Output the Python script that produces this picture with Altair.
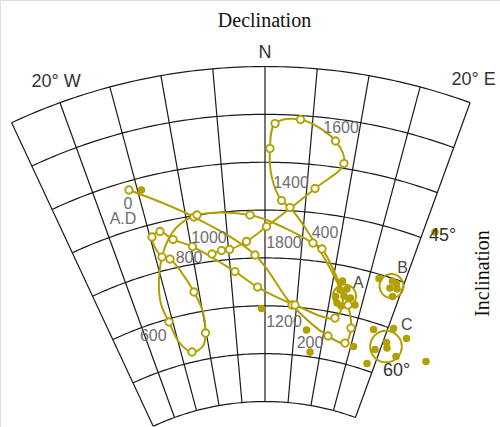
import altair as alt
import numpy as np
import pandas as pd

# ---------------------------------------------------------------------------
# Fan-shaped declination / inclination diagram of an archaeomagnetic
# secular-variation curve (AD 0 - 1900) with three site means A, B, C.
# ---------------------------------------------------------------------------

OLIVE = "#b1a000"
POLE = 92.63          # inclination at the apex of the fan (radius zero)

# Secular-variation curve, in time order (declination, inclination in deg).
# curve_mark = 1 where a dated point (open circle) sits on the curve.
curve_dec = [-15.95, -8.99, -1.39, 4.28, 10.81, 13.91, 14.28, 12.95, 10.71,
             7.78, 6.47, 2.61, -1.90, -8.57, -11.49, -13.65, -15.36, -16.03,
             -15.59, -14.87, -13.09, -10.96, -10.13, -9.93, -10.75, -11.93,
             -13.14, -14.14, -14.76, -13.59, -12.17, -9.81, -4.35, -1.13,
             4.75, 11.37, 12.03, 10.23, 5.66, 3.12, 2.03, 0.82, 0.55, 1.06,
             3.72, 7.65, 8.93, 5.98, 0.20, -2.50, -4.87, -5.98, -7.33]
curve_inc = [40.91, 45.14, 49.68, 54.81, 57.53, 57.87, 56.20, 53.93, 51.59,
             48.66, 48.16, 46.83, 45.49, 44.98, 45.94, 47.91, 50.81, 53.28,
             55.32, 57.61, 58.95, 58.58, 57.29, 55.09, 52.86, 50.67,
             48.97, 48.57, 46.28, 45.93, 47.05, 48.16, 51.30, 53.03,
             54.79, 55.55, 53.54, 51.44, 47.07, 44.66, 43.97, 41.64, 38.57,
             35.95, 35.42, 37.29, 39.49, 42.47, 46.72, 48.24, 48.96, 48.99,
             49.23]
curve_mark = [1, 1, 1, 1, 1, 1, 1, 1, 0,
              1, 1, 0, 1, 1, 0, 0, 0, 0,
              1, 0, 1, 0, 1, 0, 1, 0,
              1, 1, 1, 1, 1, 1, 1, 1,
              1, 1, 0, 0, 0, 1, 1, 0, 1,
              1, 1, 1, 1, 1, 1, 1, 1, 1, 1]

# Year labels along the curve
year_text = ["0", "A.D", "200", "400", "600", "800", "1000", "1200", "1400",
             "1600", "1800"]
year_dec = [-16.5, -17.62, 7.94, 7.88, -18.69, -10.56, -7.46, 3.16, 3.08,
            8.05, 2.57]
year_inc = [42.24, 43.63, 58.59, 46.91, 56.22, 49.31, 47.54, 56.6, 42.1,
            35.9, 48.43]

# Individual specimen directions (filled dots)
spec_site = ["-", "-", "-", "-", "-", "-",
             "A", "A", "A", "A", "A", "A", "A", "A", "A",
             "B", "B", "B", "B", "B", "B",
             "C", "C", "C", "C", "C", "C", "C", "C", "C"]
spec_dec = [-14.55, 21.39, -0.56, 7.04, 8.16, 15.48,
            11.38, 12.27, 11.28, 10.80, 12.05, 13.08, 14.00, 11.92, 11.22,
            16.39, 18.32, 18.97, 18.30, 19.30, 19.04,
            17.87, 20.85, 23.37, 19.17, 20.58, 20.99, 22.94, 18.64, 27.87]
spec_inc = [41.26, 43.94, 55.28, 57.26, 59.49, 58.00,
            51.60, 52.33, 52.58, 53.33, 53.11, 53.16, 53.76, 54.19, 53.97,
            50.43, 50.26, 50.38, 51.04, 50.90, 51.79,
            55.69, 54.90, 55.35, 57.63, 56.52, 57.05, 57.52, 59.28, 56.65]

# Site means with their alpha-95 confidence circles
site_name = ["A", "B", "C"]
site_dec = [12.13, 18.41, 20.74]
site_inc = [53.09, 50.79, 56.94]
site_a95 = [1.20, 1.25, 1.65]
site_label_dec = [13.68, 19.07, 22.58]
site_label_inc = [51.43, 48.67, 54.08]

# Grid and frame labels
dec_lines = list(range(-25, 21, 5))
inc_lines = list(range(30, 66, 5))
frame_text = ["N", "20° W", "20° E", "45°", "60°"]
frame_dec = [0.0, -19.7, 19.6, 22.41, 24.04]
frame_inc = [28.62, 27.87, 27.63, 43.98, 58.86]


def project(dec, inc):
    """Polar fan projection: declination is the angle, inclination the radius."""
    rho = POLE - np.asarray(inc, dtype=float)
    d = np.radians(np.asarray(dec, dtype=float))
    return rho * np.sin(d), rho * np.cos(d)


def frame(dec, inc, **cols):
    px, py = project(dec, inc)
    return pd.DataFrame({"px": px, "py": py, **cols})


# --- tables ---------------------------------------------------------------
grid_parts = []
for d in dec_lines:
    grid_parts.append(frame([d, d], [inc_lines[0], inc_lines[-1]],
                            gid=f"d{d}", k=[0, 1]))
arc_dec = np.arange(dec_lines[0], dec_lines[-1] + 0.01, 0.5)
for i in inc_lines:
    grid_parts.append(frame(arc_dec, np.full(arc_dec.shape, i),
                            gid=f"i{i}", k=np.arange(arc_dec.size)))
grid_df = pd.concat(grid_parts, ignore_index=True)

curve_df = frame(curve_dec, curve_inc, seq=np.arange(len(curve_dec)),
                 mark=curve_mark)
dated_df = curve_df[curve_df["mark"] == 1]
year_df = frame(year_dec, year_inc, label=year_text)
spec_df = frame(spec_dec, spec_inc, site=spec_site)
frame_df = frame(frame_dec, frame_inc, label=frame_text)
site_lab_df = frame(site_label_dec, site_label_inc, label=site_name)

ring_parts = []
t = np.linspace(0, 2 * np.pi, 73)
for name, d, i, a in zip(site_name, site_dec, site_inc, site_a95):
    cx, cy = project([d], [i])
    ring_parts.append(pd.DataFrame({"px": cx[0] + a * np.cos(t),
                                    "py": cy[0] + a * np.sin(t),
                                    "site": name, "k": np.arange(t.size)}))
ring_df = pd.concat(ring_parts, ignore_index=True)

# --- scales and axes (axes carry only the two titles) ----------------------
xs = alt.Scale(domain=[-27.685, 24.551], nice=False, zero=False)
ys = alt.Scale(domain=[24.969, 69.58], nice=False, zero=False)

x_axis = alt.Axis(orient="top", title="Declination", labels=False,
                  ticks=False, domain=False, grid=False,
                  titleFont="Liberation Serif", titleFontSize=20,
                  titleFontWeight="normal", titleColor="#111111",
                  titleX=264, titleY=26, titleAlign="center",
                  titleBaseline="alphabetic")
y_axis = alt.Axis(orient="right", title="Inclination", labels=False,
                  ticks=False, domain=False, grid=False,
                  titleFont="Liberation Serif", titleFontSize=20,
                  titleFontWeight="normal", titleColor="#111111",
                  titleAngle=270, titleX=-12, titleY=273,
                  titleAlign="center", titleBaseline="alphabetic")

X = alt.X("px:Q", scale=xs, axis=x_axis, title="Declination")
Y = alt.Y("py:Q", scale=ys, axis=y_axis, title="Inclination")

grid = alt.Chart(grid_df).mark_line(color="#1a1a1a", strokeWidth=1.2).encode(
    x=X, y=Y, detail="gid:N", order="k:Q")

curve = alt.Chart(curve_df).mark_line(
    color=OLIVE, strokeWidth=2, interpolate="catmull-rom").encode(
    x=X, y=Y, order="seq:Q")

rings = alt.Chart(ring_df).mark_line(color=OLIVE, strokeWidth=2).encode(
    x=X, y=Y, detail="site:N", order="k:Q")

dated = alt.Chart(dated_df).mark_point(
    shape="circle", filled=True, fill="white", stroke=OLIVE,
    strokeWidth=1.8, size=56, opacity=1).encode(x=X, y=Y)

specimens = alt.Chart(spec_df).mark_point(
    shape="circle", filled=True, color=OLIVE, size=56, opacity=1).encode(
    x=X, y=Y)

years = alt.Chart(year_df).mark_text(
    font="Liberation Sans", fontSize=16, color="#6e6e6e",
    align="center", baseline="middle").encode(x=X, y=Y, text="label:N")

site_labels = alt.Chart(site_lab_df).mark_text(
    font="Liberation Sans", fontSize=16, color="#4a4a4a",
    align="center", baseline="middle").encode(x=X, y=Y, text="label:N")

frame_labels = alt.Chart(frame_df).mark_text(
    font="Liberation Sans", fontSize=18, color="#333333",
    align="center", baseline="middle").encode(x=X, y=Y, text="label:N")

chart = alt.layer(
    grid, curve, rings, dated, specimens, years, site_labels, frame_labels
).properties(
    width=500, height=427,
    autosize=alt.AutoSizeParams(type="none"),
    padding=0,
).configure_view(stroke=None).configure(background="white")

chart.save("out.html", embed_options={"renderer": "svg", "actions": False})
